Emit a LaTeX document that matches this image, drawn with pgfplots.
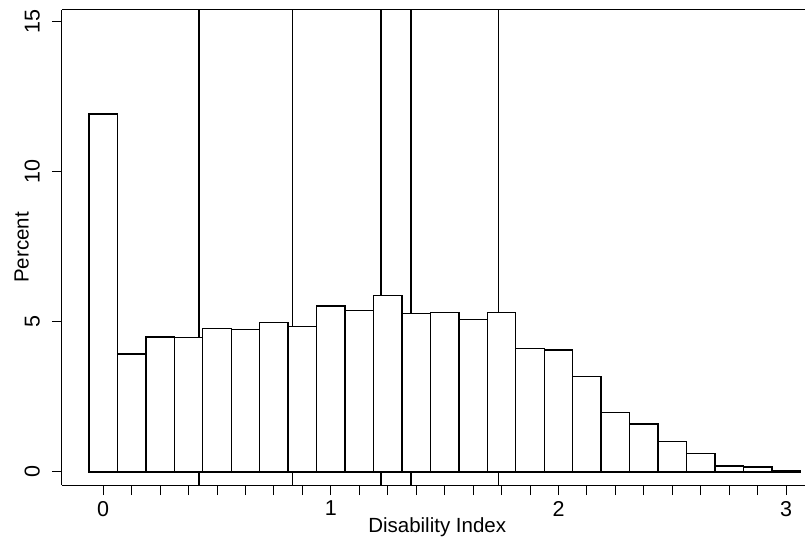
\documentclass[border=0pt]{standalone}
\usepackage{pgfplots}
\usepackage{pgfplotstable}
\pgfplotsset{compat=1.18}
\usepackage{fontspec}
\setmainfont{Liberation Sans}

% bin centre, percent
\pgfplotstableread{
x h
0 11.91
0.125 3.92
0.25 4.49
0.375 4.47
0.5 4.77
0.625 4.74
0.75 4.98
0.875 4.85
1.0 5.52
1.125 5.38
1.25 5.87
1.375 5.28
1.5 5.30
1.625 5.08
1.75 5.31
1.875 4.10
2.0 4.06
2.125 3.18
2.25 1.97
2.375 1.60
2.5 1.02
2.625 0.61
2.75 0.20
2.875 0.16
3.0 0.05
}\bins

\begin{document}
\begin{tikzpicture}
\path[use as bounding box] (-62pt,-61pt) rectangle (743pt,485pt);
\begin{axis}[
    at={(0pt,0pt)}, anchor=south west,
    scale only axis, width=743pt, height=475pt,
    xmin=-0.181, xmax=3.083,
    ymin=-0.433, ymax=15.37,
    axis x line*=bottom, axis y line*=left,
    axis line style={line width=1pt, -},
    tick align=outside,
    major tick length=10pt, minor tick length=10pt,
    tick style={black, line width=1pt},
    xtick={0,1,2,3}, minor x tick num=7,
    ytick={0,5,10,15},
    /pgf/number format/assume math mode=true,
    tick label style={font=\fontsize{21.5}{24}\selectfont},
    label style={font=\fontsize{20.5}{24}\selectfont},
    xticklabel style={anchor=north, inner sep=0pt, yshift=-6pt},
    yticklabel style={rotate=90, anchor=south, inner sep=0pt, yshift=12pt},
    xlabel={Disability Index},
    ylabel={Percent},
    xlabel style={at={(axis description cs:0.505,-0.099)}, anchor=base},
    ylabel style={at={(axis description cs:-0.045,0.5)}, anchor=base, rotate=0},
    clip=false,
]
% cut points
\addplot[black, line width=1.2pt] coordinates {(0.421,-0.433) (0.421,15.37)};
\addplot[black, line width=1.2pt] coordinates {(0.830,-0.433) (0.830,15.37)};
\addplot[black, line width=1.2pt] coordinates {(1.220,-0.433) (1.220,15.37)};
\addplot[black, line width=1.2pt] coordinates {(1.352,-0.433) (1.352,15.37)};
\addplot[black, line width=1.2pt] coordinates {(1.735,-0.433) (1.735,15.37)};
% histogram
\addplot[ybar, bar width=0.125, fill=white, draw=black, line width=1.4pt] table[x=x, y=h] {\bins};
\draw[line width=1pt] (rel axis cs:0,1) -- (rel axis cs:1,1);
\end{axis}
\end{tikzpicture}
\end{document}
